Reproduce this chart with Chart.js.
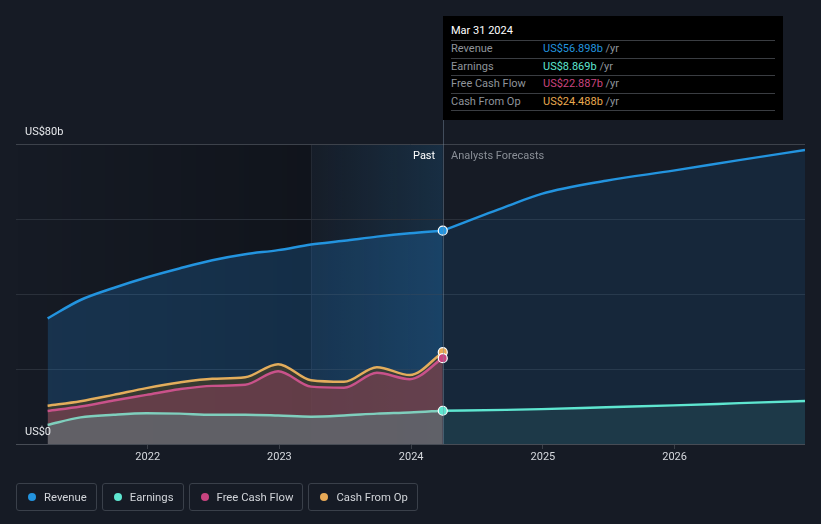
<!DOCTYPE html>
<html>
<head>
<meta charset="utf-8">
<script src="https://cdn.jsdelivr.net/npm/chart.js@4.4.1/dist/chart.umd.min.js"></script>
<style>
  html, body { margin: 0; padding: 0; background: #161b25; }
  #wrap { position: relative; width: 821px; height: 524px; overflow: hidden; font-family: Roboto, "Noto Sans", sans-serif; }
  #c { position: absolute; left: 0; top: 0; }
  #tip { position: absolute; left: 443px; top: 16px; width: 340px; height: 104px; background: #000; box-sizing: border-box; padding: 0 8px; }
  #tip .title { color: #fff; font-size: 11px; line-height: 30px; border-bottom: 1px solid #3a3d42; box-sizing: border-box; height: 25px; }
  #tip .row { font-size: 11px; height: 17.5px; line-height: 16px; border-bottom: 1px solid #3a3d42; color: #8f949b; position: relative; box-sizing: border-box; }
  #tip .row .v { position: absolute; left: 92px; top: 0; }
  #tip .row .u { color: #8f949b; }
  .lbl { position: absolute; font-size: 11px; }
  #legend { position: absolute; left: 16px; top: 483px; display: flex; gap: 5px; }
  .li { height: 28px; box-sizing: border-box; border: 1px solid #3a404a; border-radius: 3px; display: flex; align-items: center; padding: 0 9px 0 11px; color: #d2d5da; font-size: 11.3px; }
  .li .d { width: 8px; height: 8px; border-radius: 50%; margin-right: 8px; }
</style>
</head>
<body>
<div id="wrap">
  <canvas id="c" width="821" height="524"></canvas>
  <div id="tip">
    <div class="title">Mar 31 2024</div>
    <div class="row">Revenue<span class="v"><span style="color:#2394df">US$56.898b</span><span class="u"> /yr</span></span></div>
    <div class="row">Earnings<span class="v"><span style="color:#5ee6d0">US$8.869b</span><span class="u"> /yr</span></span></div>
    <div class="row">Free Cash Flow<span class="v"><span style="color:#c9447f">US$22.887b</span><span class="u"> /yr</span></span></div>
    <div class="row">Cash From Op<span class="v"><span style="color:#e8a94f">US$24.488b</span><span class="u"> /yr</span></span></div>
  </div>
  <div class="lbl" id="past" style="left:413px; top:149px; color:#ffffff;">Past</div>
  <div class="lbl" id="fc" style="left:451px; top:149px; color:#8a8f97;">Analysts Forecasts</div>
  <div id="legend">
    <div class="li"><span class="d" style="background:#2394df"></span>Revenue</div>
    <div class="li"><span class="d" style="background:#5ee6d0"></span>Earnings</div>
    <div class="li"><span class="d" style="background:#c7437f"></span>Free Cash Flow</div>
    <div class="li"><span class="d" style="background:#e8a956"></span>Cash From Op</div>
  </div>
</div>
<script>
// ---- data (US$ billions) ----
const pastDates = [2021.24, 2021.49, 2021.74, 2021.99, 2022.24, 2022.49, 2022.74, 2022.99, 2023.24, 2023.49, 2023.74, 2023.99, 2024.24];
const revenuePast = [33.5, 38.4, 41.6, 44.4, 46.8, 49.0, 50.6, 51.7, 53.2, 54.2, 55.3, 56.2, 56.898];
const earningsPast = [5.1, 7.1, 7.8, 8.2, 8.1, 7.8, 7.8, 7.6, 7.3, 7.6, 8.1, 8.4, 8.869];
const fcfPast = [8.8, 10.0, 11.6, 13.1, 14.6, 15.5, 15.8, 19.4, 15.3, 15.0, 19.0, 17.3, 22.887];
const cfoPast = [10.2, 11.4, 13.1, 14.9, 16.4, 17.4, 17.8, 21.3, 17.0, 16.6, 20.5, 18.4, 24.488];

const forecastDates = [2024.24, 2024.72, 2024.99, 2025.48, 2025.99, 2026.49, 2026.99];
const revenueForecast = [56.898, 63.3, 66.7, 70.2, 72.9, 75.7, 78.4];
const earningsForecast = [8.869, 9.1, 9.3, 9.8, 10.3, 10.9, 11.5];

const xTicks = [2022, 2023, 2024, 2025, 2026];
const yGrid = [0, 20, 40, 60, 80];
const yTickLabels = { 0: 'US$0', 80: 'US$80b' };
const nowDate = 2024.24;
const pastBandStart = 2023.24;

const pts = (xs, ys) => xs.map((x, i) => ({ x, y: ys[i] }));
const lastOnly = (n, r) => (ctx) => ctx.dataIndex === n - 1 ? r : 0;

const bgPlugin = {
  id: 'bg',
  beforeDraw(chart) {
    const { ctx, chartArea: a, scales: { x } } = chart;
    const xNow = x.getPixelForValue(nowDate);
    const xBand = x.getPixelForValue(pastBandStart);
    ctx.save();
    let g = ctx.createLinearGradient(a.left, 0, xNow, 0);
    g.addColorStop(0, 'rgba(0,0,0,0.0)');
    g.addColorStop(1, 'rgba(0,0,0,0.35)');
    ctx.fillStyle = g;
    ctx.fillRect(a.left, a.top, xBand - a.left, a.bottom - a.top);
    g = ctx.createLinearGradient(xBand, 0, xNow, 0);
    g.addColorStop(0, 'rgba(35,148,223,0.02)');
    g.addColorStop(1, 'rgba(35,148,223,0.16)');
    ctx.fillStyle = g;
    ctx.fillRect(xBand, a.top, xNow - xBand, a.bottom - a.top);
    ctx.strokeStyle = 'rgba(255,255,255,0.06)';
    ctx.lineWidth = 1;
    ctx.beginPath(); ctx.moveTo(Math.round(xBand) + 0.5, a.top); ctx.lineTo(Math.round(xBand) + 0.5, a.bottom); ctx.stroke();
    ctx.restore();
  },
  afterDatasetsDraw(chart) {
    const { ctx, chartArea: a, scales: { x, y } } = chart;
    const xNow = Math.round(x.getPixelForValue(nowDate)) + 0.5;
    ctx.save();
    ctx.strokeStyle = 'rgba(120,140,160,0.45)';
    ctx.lineWidth = 1;
    ctx.beginPath(); ctx.moveTo(xNow, 16); ctx.lineTo(xNow, a.bottom); ctx.stroke();
    ctx.fillStyle = '#e6e8eb';
    ctx.font = '11px Roboto';
    ctx.textAlign = 'left';
    ctx.textBaseline = 'middle';
    Object.keys(yTickLabels).forEach(v => {
      ctx.fillText(yTickLabels[v], a.left + 9, y.getPixelForValue(Number(v)) - 12);
    });
    ctx.restore();
  }
};

const n = pastDates.length;
new Chart(document.getElementById('c'), {
  type: 'line',
  data: {
    datasets: [
      { label: 'Earnings', data: pts(pastDates, earningsPast), borderColor: '#7fcfbd', borderWidth: 2.5,
        fill: 'origin', backgroundColor: 'rgba(95,110,115,0.72)',
        pointRadius: lastOnly(n, 4.5), pointBackgroundColor: '#5ee6d0', pointBorderColor: '#fff', pointBorderWidth: 1.2 },
      { label: 'Earnings forecast', data: pts(forecastDates, earningsForecast), borderColor: '#5ee6d0', borderWidth: 2.5,
        fill: 'origin', backgroundColor: 'rgba(94,230,208,0.10)', pointRadius: 0 },
      { label: 'Free Cash Flow', data: pts(pastDates, fcfPast), borderColor: '#c9528a', borderWidth: 2.5,
        fill: 'origin', backgroundColor: 'rgba(201,68,127,0.30)',
        pointRadius: lastOnly(n, 4.5), pointBackgroundColor: '#c7437f', pointBorderColor: '#fff', pointBorderWidth: 1.2 },
      { label: 'Cash From Op', data: pts(pastDates, cfoPast), borderColor: '#e3ad5c', borderWidth: 2.5,
        fill: 'origin', backgroundColor: 'rgba(70,62,40,0.70)',
        pointRadius: lastOnly(n, 4.5), pointBackgroundColor: '#e8a956', pointBorderColor: '#fff', pointBorderWidth: 1.2 },
      { label: 'Revenue', data: pts(pastDates, revenuePast), borderColor: '#2394df', borderWidth: 2.5,
        fill: 'origin', backgroundColor: 'rgba(33,150,243,0.20)',
        pointRadius: lastOnly(n, 4.5), pointBackgroundColor: '#2394df', pointBorderColor: '#fff', pointBorderWidth: 1.2 },
      { label: 'Revenue forecast', data: pts(forecastDates, revenueForecast), borderColor: '#2394df', borderWidth: 2.5,
        fill: 'origin', backgroundColor: 'rgba(33,150,243,0.10)', pointRadius: 0 }
    ]
  },
  options: {
    responsive: false,
    animation: false,
    layout: { padding: { left: 16, right: 16, top: 144, bottom: 50 } },
    plugins: { legend: { display: false }, tooltip: { enabled: false } },
    elements: { line: { cubicInterpolationMode: 'monotone' } },
    scales: {
      x: {
        type: 'linear', min: 2021, max: 2026.99,
        afterBuildTicks: (s) => { s.ticks = xTicks.map(v => ({ value: v })); },
        afterFit: (s) => { s.height = 30; },
        ticks: { color: '#d6d9de', font: { family: 'Roboto', size: 11 }, padding: 2, callback: (v) => String(v), maxRotation: 0, autoSkip: false },
        grid: { drawOnChartArea: false, drawTicks: true, tickLength: 5, color: '#3a3f48' },
        border: { display: false }
      },
      y: {
        min: 0, max: 80,
        afterBuildTicks: (s) => { s.ticks = yGrid.map(v => ({ value: v })); },
        afterFit: (s) => { s.width = 0; },
        ticks: { display: false },
        grid: { drawTicks: false, color: (c) => c.tick && c.tick.value === 0 ? '#474c55' : (c.tick && c.tick.value === 80 ? '#3d424b' : '#2a303a') },
        border: { display: false }
      }
    }
  },
  plugins: [bgPlugin]
});
</script>
</body>
</html>
